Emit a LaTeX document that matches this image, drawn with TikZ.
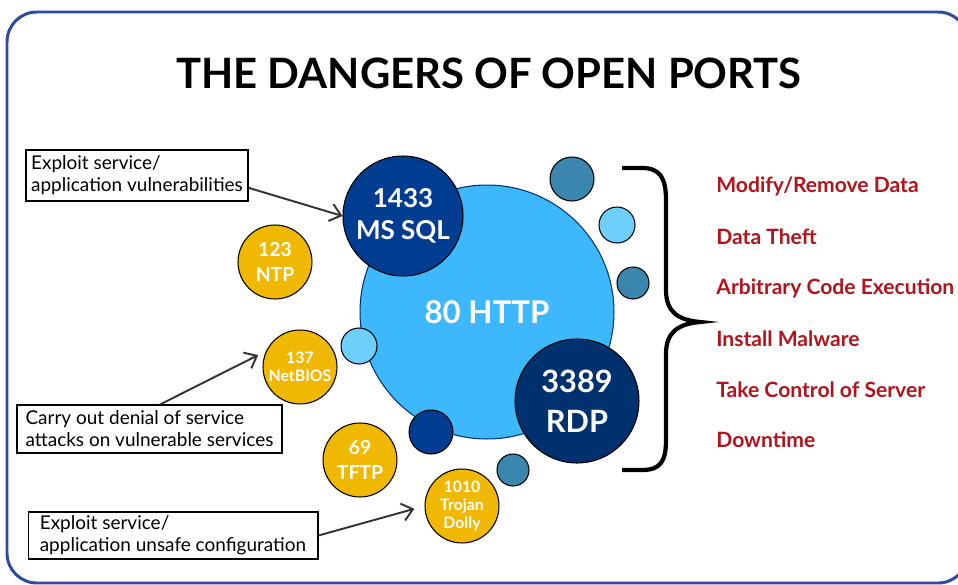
\documentclass[tikz,border=0pt]{standalone}
\usepackage{fontspec}
\setmainfont{Lato}
\usetikzlibrary{arrows.meta}

\definecolor{framecol}{HTML}{2E4B9E}
\definecolor{httpblue}{HTML}{3DB8FD}
\definecolor{sqlblue}{HTML}{003C8F}
\definecolor{rdpblue}{HTML}{00316F}
\definecolor{tealdot}{HTML}{3A86AE}
\definecolor{paledot}{HTML}{6FCFFB}
\definecolor{portgold}{HTML}{F0B800}
\definecolor{harmred}{HTML}{B0141C}
\definecolor{pointergray}{HTML}{333333}

\begin{document}
\begin{tikzpicture}[x=0.02cm,y=-0.02cm,
  bubble/.style={circle,draw=black,line width=0.6pt,inner sep=0pt},
  port/.style={bubble,text=white,align=center,font=\bfseries},
  notebox/.style={draw=black,line width=0.6pt,align=left,inner sep=0pt,
    font=\fontsize{10.8}{12.5}\selectfont},
  harm/.style={anchor=west,inner xsep=0pt,text=harmred,font=\fontsize{12}{14}\selectfont\bfseries},
  pointer/.style={draw=pointergray,line width=1.1pt,
    -{Straight Barb[length=6pt,width=10pt,line width=1.1pt]}}]

\useasboundingbox (0,0) rectangle (958,585);
\clip (0,0) rectangle (958,585);

% frame and title:
\draw[framecol,line width=1.7pt,rounded corners=17pt] (7,12) rectangle (968,583);
\path (489,73) node[text=black,font=\fontsize{23.8}{28}\selectfont\bfseries] (title) {THE DANGERS OF OPEN PORTS};

% port bubbles:
\node[port,fill=httpblue,draw=rdpblue,minimum size=5.08cm,font=\fontsize{17.8}{20}\selectfont\bfseries] (http) at (487,312) {80 HTTP};
\node[port,fill=sqlblue,minimum size=2.4cm,font=\fontsize{14.8}{18}\selectfont\bfseries] (mssql) at (403,216) {1433\\MS SQL};
\node[port,fill=rdpblue,minimum size=2.48cm,font=\fontsize{17.5}{22.7}\selectfont\bfseries] (rdp) at (577,401) {3389\\RDP};
\node[port,fill=portgold,minimum size=1.48cm,font=\fontsize{11}{14}\selectfont\bfseries] (ntp) at (275,262) {123\\NTP};
\node[port,fill=portgold,minimum size=1.48cm,font=\fontsize{9}{10}\selectfont\bfseries] (netbios) at (300,367) {137\\NetBIOS};
\node[port,fill=portgold,minimum size=1.48cm,font=\fontsize{11}{14}\selectfont\bfseries] (tftp) at (360,460) {69\\TFTP};
\node[port,fill=portgold,minimum size=1.48cm,font=\fontsize{9}{10.5}\selectfont\bfseries] (trojan) at (462,506) {1010\\Trojan\\Dolly};

% small dots:
\node[bubble,fill=tealdot,minimum size=0.88cm] (dota) at (572,179) {};
\node[bubble,fill=paledot,minimum size=0.72cm] (dotb) at (617,225) {};
\node[bubble,fill=tealdot,minimum size=0.64cm] (dotc) at (633,283) {};
\node[bubble,fill=paledot,minimum size=0.72cm] (dotd) at (359,346) {};
\node[bubble,fill=sqlblue,minimum size=0.88cm] (dote) at (431,432) {};
\node[bubble,fill=tealdot,minimum size=0.64cm] (dotf) at (513,470) {};

% brace:
\draw[black,line width=2.4pt] (622,168) -- (642,168)
  .. controls (660,168) and (666,178) .. (666,200) -- (666,290)
  .. controls (666,312) and (678,320) .. (700,322)
  .. controls (678,324) and (666,332) .. (666,354) -- (666,440)
  .. controls (666,462) and (660,470) .. (642,470) -- (622,470);

% what an attacker gets:
\node[harm] (modify) at (716,186) {Modify/Remove Data};
\node[harm] (theft) at (716,237) {Data Theft};
\node[harm] (arbitrary) at (716,288) {Arbitrary Code Execution};
\node[harm] (malware) at (716,339) {Install Malware};
\node[harm] (control) at (716,390) {Take Control of Server};
\node[harm] (downtime) at (716,440) {Downtime};

% attack notes:
\node[notebox,minimum width=4.44cm,minimum height=1.02cm] (vulnbox) at (137,175.5) {Exploit service/\\application vulnerabilities};
\node[notebox,minimum width=5.3cm,minimum height=0.96cm] (dosbox) at (149.5,429) {Carry out denial of service\\attacks on vulnerable services};
\node[notebox,minimum width=5.8cm,minimum height=0.94cm] (configbox) at (173,535.5) {Exploit service/\\application unsafe configuration};

\draw[pointer] ([yshift=-7pt]vulnbox.east) -- (mssql.west);
\draw[pointer,shorten >=5pt] ([xshift=6pt]dosbox.north) -- (netbios.155);
\draw[pointer,shorten >=6pt] (configbox.east) -- (trojan.west);

\end{tikzpicture}
\end{document}
